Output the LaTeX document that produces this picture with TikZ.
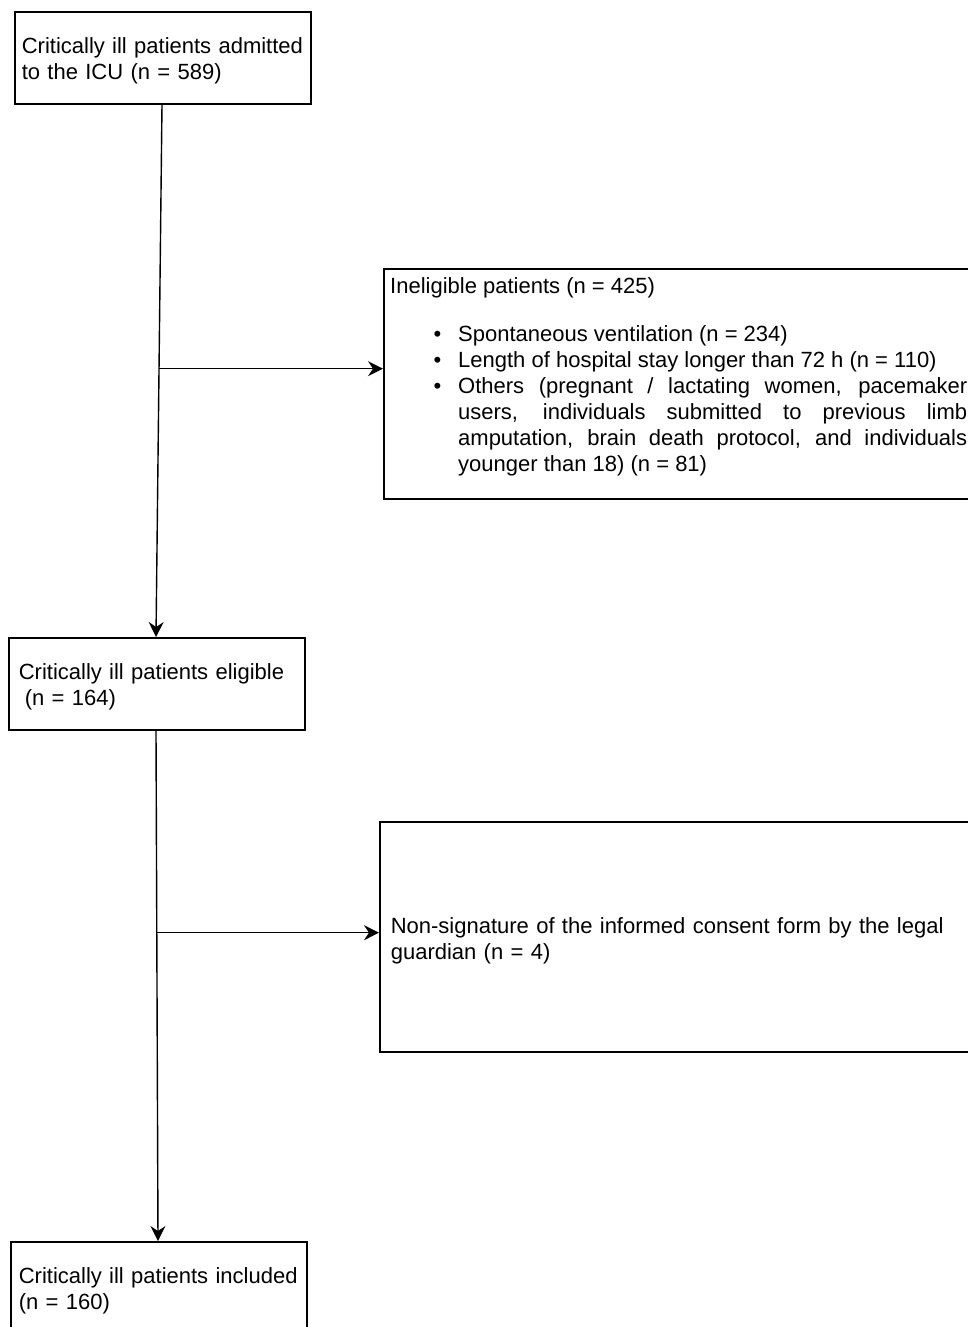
\documentclass[tikz,border=0pt]{standalone}
\usepackage{fontspec}
\setmainfont{Liberation Sans}
\usetikzlibrary{arrows.meta}

\tikzset{
  flowbox/.style={draw,line width=1.6pt,anchor=north west,align=left,
                  text width=282pt,inner xsep=7pt,minimum height=92pt,
                  execute at begin node=\rule{0pt}{22pt}},
  sidebox/.style={draw,line width=1.6pt,anchor=north west,minimum height=230pt},
  flowarr/.style={line width=1.4pt,-{Stealth[length=15pt,width=15pt,inset=5pt]}}
}

\begin{document}
\begin{tikzpicture}[x=1pt,y=-1pt,font=\fontsize{22}{26}\selectfont]
  \useasboundingbox (0,0) rectangle (968,1327);

  % ===== MAIN COLUMN =====
  \node[flowbox] (admit) at (14,11)
        {Critically ill patients admitted\\to the ICU (n = 589)};
  \node[flowbox,inner xsep=10pt,text width=276pt] (elig) at (8,637)
        {Critically ill patients eligible\\\hspace*{6pt}(n = 164)};
  \node[flowbox,inner xsep=8pt,text width=280pt] (incl) at (10,1241)
        {Critically ill patients included\\(n = 160)};

  % ===== EXCLUSIONS =====
  \node[sidebox,minimum width=600pt] (inel) at (383,268) {};
  \node[anchor=north west,inner sep=0pt,text width=577pt,align=justify]
        (inel-txt) at (390,277)
        {Ineligible patients (n = 425)
         \begin{list}{\textbullet}{\setlength{\leftmargin}{68pt}%
           \setlength{\labelsep}{17pt}\setlength{\itemsep}{0pt}%
           \setlength{\parsep}{0pt}\setlength{\topsep}{22pt}%
           \setlength{\partopsep}{0pt}}
           \item Spontaneous ventilation (n = 234)
           \item Length of hospital stay longer than 72 h (n = 110)
           \item Others (pregnant / lactating women, pacemaker\linebreak
                 users, individuals submitted to previous limb\linebreak
                 amputation, brain death protocol, and individuals\linebreak
                 younger than 18) (n = 81)
         \end{list}};
  \node[sidebox,align=left,text width=580pt,inner xsep=11pt] (excl) at (379,821)
        {\rule{0pt}{24pt}Non-signature of the informed consent form by the legal\\guardian (n = 4)};

  % ===== CONNECTORS =====
  \draw[flowarr] ([xshift=148pt]admit.south west) -- ([xshift=148pt]elig.north west)
        coordinate[pos=0.496] (j1);
  \draw[flowarr] ([xshift=148pt]elig.south west) -- ([xshift=148pt]incl.north west)
        coordinate[pos=0.396] (j2);
  \draw[flowarr] (j1) -- (j1 -| inel.west);
  \draw[flowarr] (j2) -- (j2 -| excl.west);

\end{tikzpicture}
\end{document}
